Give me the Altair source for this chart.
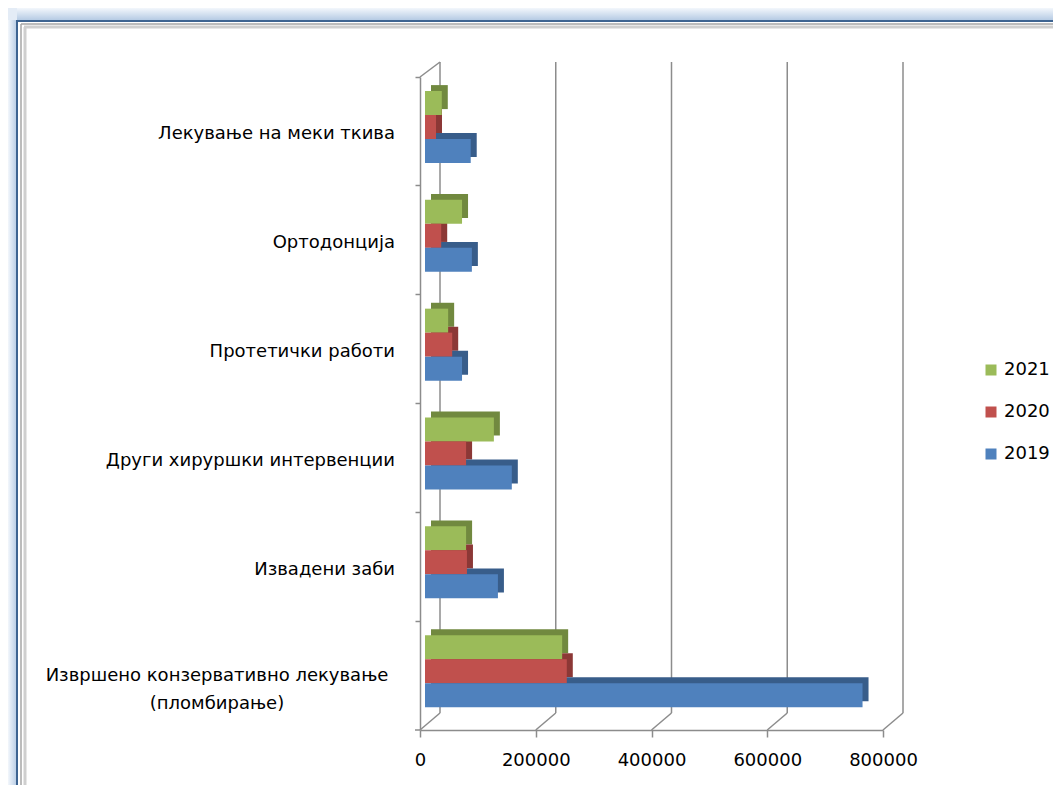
import altair as alt
import pandas as pd

categories = [
    "Лекување на меки ткива",
    "Ортодонција",
    "Протетички работи",
    "Други хируршки интервенции",
    "Извадени заби",
    "Извршено конзервативно лекување\n(пломбирање)",
]
years = ["2021", "2020", "2019"]
v2019 = [79000, 81000, 64000, 150000, 126000, 756000]
v2020 = [19000, 28000, 47000, 71000, 72500, 245000]
v2021 = [29000, 64000, 40000, 119000, 71000, 237000]
x_ticks = [0, 200000, 400000, 600000, 800000]

front_colors = ["#9BBB59", "#C0504D", "#4F81BD"]
dark_colors = ["#71893F", "#8C3836", "#385D8A"]

rows = []
series = {"2019": v2019, "2020": v2020, "2021": v2021}
for i, c in enumerate(categories):
    for j, y in enumerate(years):
        rows.append({"category": c, "year": y, "value": series[y][i], "dark": dark_colors[j]})
df = pd.DataFrame(rows)

W, H = 463, 653
FONT = "DejaVu Sans"
FS = 18
GRID = "#8C8C8C"

xscale = alt.Scale(domain=[0, 800000], nice=False, zero=True)
yscale = alt.Scale(paddingInner=0, paddingOuter=0)
base = alt.Chart(df)

ysort = categories

depth = base.mark_bar(xOffset=11, x2Offset=11, strokeWidth=0).encode(
    x=alt.X("value:Q", scale=xscale, axis=alt.Axis(
        values=x_ticks, format="d", grid=False, title=None, labelFont=FONT,
        labelFontSize=FS, labelColor="#000", labelFlush=False, labelOverlap=False,
        domainColor=GRID, domainWidth=1.5,
        tickColor=GRID, tickWidth=1.5, tickSize=7, labelPadding=14)),
    x2=alt.datum(0),
    y=alt.Y("category:N", sort=ysort, scale=yscale, axis=alt.Axis(
        labels=False, title=None, domainColor=GRID, domainWidth=1.5, tickColor=GRID,
        tickWidth=1.5, tickSize=5, bandPosition=0)),
    yOffset=alt.YOffset("year:N", sort=years,
                        scale=alt.Scale(paddingInner=0, paddingOuter=0.767, align=0.22)),
    fill=alt.Fill("dark:N", scale=None),
)

front = base.mark_bar(xOffset=5, x2Offset=5, strokeWidth=0).encode(
    x=alt.X("value:Q", scale=xscale),
    x2=alt.datum(0),
    y=alt.Y("category:N", sort=ysort, scale=yscale),
    yOffset=alt.YOffset("year:N", sort=years,
                        scale=alt.Scale(paddingInner=0, paddingOuter=0.767, align=0.38)),
    fill=alt.Fill("year:N", sort=years,
                  scale=alt.Scale(domain=years, range=front_colors),
                  legend=alt.Legend(title=None, orient="none", legendX=562, legendY=284,
                                    symbolType="square", symbolSize=121, symbolStrokeWidth=0,
                                    labelFont=FONT, labelFontSize=FS, labelColor="#000",
                                    rowPadding=24, labelOffset=4, padding=0)),
)

tick_df = pd.DataFrame({"v": x_ticks})
back_lines = alt.Chart(tick_df).mark_rule(color=GRID, strokeWidth=1.5, xOffset=20).encode(
    x=alt.X("v:Q", scale=xscale),
    y=alt.value(-15),
    y2=alt.value(H - 17),
)
diag_lines = alt.Chart(tick_df).mark_rule(color=GRID, strokeWidth=1.5, x2Offset=20).encode(
    x=alt.X("v:Q", scale=xscale),
    x2=alt.X2("v:Q"),
    y=alt.value(H),
    y2=alt.value(H - 17),
)
top_diag = alt.Chart(pd.DataFrame({"v": [0]})).mark_rule(color=GRID, strokeWidth=1.5, x2Offset=20).encode(
    x=alt.X("v:Q", scale=xscale),
    x2=alt.X2("v:Q"),
    y=alt.value(0),
    y2=alt.value(-15),
)
corner_tick = alt.Chart(pd.DataFrame({"v": [0]})).mark_rule(color=GRID, strokeWidth=1.5).encode(
    x=alt.value(-5), x2=alt.value(0), y=alt.value(H),
)

lab_df = pd.DataFrame({"category": categories})
labels_single = alt.Chart(lab_df).transform_filter(
    alt.datum.category != categories[-1]
).mark_text(align="right", baseline="middle", dy=3, font=FONT, fontSize=FS, color="#000").encode(
    y=alt.Y("category:N", sort=ysort, scale=yscale),
    x=alt.value(-25),
    text="category:N",
)
labels_multi = alt.Chart(lab_df).transform_filter(
    alt.datum.category == categories[-1]
).mark_text(align="center", baseline="middle", lineBreak="\n", lineHeight=28,
            font=FONT, fontSize=FS, color="#000").encode(
    y=alt.Y("category:N", sort=ysort, scale=yscale),
    x=alt.value(-203),
    text="category:N",
)

# decorative window frame (page coords minus plot origin 420,77)
one = alt.Data(values=[{"k": 1}])
grad_top = alt.Gradient(gradient="linear", x1=0, y1=0, x2=0, y2=1, stops=[
    alt.GradientStop(color="#F3F7FC", offset=0), alt.GradientStop(color="#B6CBE4", offset=1)])
grad_left = alt.Gradient(gradient="linear", x1=0, y1=0, x2=1, y2=0, stops=[
    alt.GradientStop(color="#F3F7FC", offset=0), alt.GradientStop(color="#B6CBE4", offset=1)])
frame_top = alt.Chart(one).mark_rect(fill=grad_top).encode(
    x=alt.value(-403), x2=alt.value(640), y=alt.value(-69), y2=alt.value(-57))
frame_left = alt.Chart(one).mark_rect(fill=grad_left).encode(
    x=alt.value(-412), x2=alt.value(-403), y=alt.value(-57), y2=alt.value(720))
frame_corner = alt.Chart(one).mark_rect(fill="#E4ECF6").encode(
    x=alt.value(-412), x2=alt.value(-403), y=alt.value(-69), y2=alt.value(-57))
blue_top = alt.Chart(one).mark_rule(color="#3E6491", strokeWidth=2).encode(
    x=alt.value(-403), x2=alt.value(640), y=alt.value(-56))
blue_left = alt.Chart(one).mark_rule(color="#3E6491", strokeWidth=2).encode(
    x=alt.value(-403), y=alt.value(-57), y2=alt.value(720))
gray1_top = alt.Chart(one).mark_rule(color="#A6A6A6", strokeWidth=1.5).encode(
    x=alt.value(-399), x2=alt.value(640), y=alt.value(-53))
gray1_left = alt.Chart(one).mark_rule(color="#A6A6A6", strokeWidth=1.5).encode(
    x=alt.value(-399), y=alt.value(-53), y2=alt.value(720))
gray2_top = alt.Chart(one).mark_rule(color="#CFCFCF", strokeWidth=3).encode(
    x=alt.value(-396), x2=alt.value(640), y=alt.value(-50))
gray2_left = alt.Chart(one).mark_rule(color="#CFCFCF", strokeWidth=3).encode(
    x=alt.value(-395), y=alt.value(-50), y2=alt.value(720))

chart = alt.layer(
    frame_top, frame_left, frame_corner, blue_top, blue_left,
    gray1_top, gray1_left, gray2_top, gray2_left,
    back_lines, diag_lines, top_diag, corner_tick,
    depth, front, labels_single, labels_multi,
).resolve_scale(
    yOffset="independent", fill="independent"
).properties(
    width=W, height=H,
    background="#FFFFFF",
    autosize=alt.AutoSizeParams(type="none"),
    padding={"left": 412, "top": 69, "right": 170, "bottom": 55},
).configure_view(strokeWidth=0, stroke="transparent")

chart.save("out.html", embed_options={"renderer": "svg", "actions": False})
